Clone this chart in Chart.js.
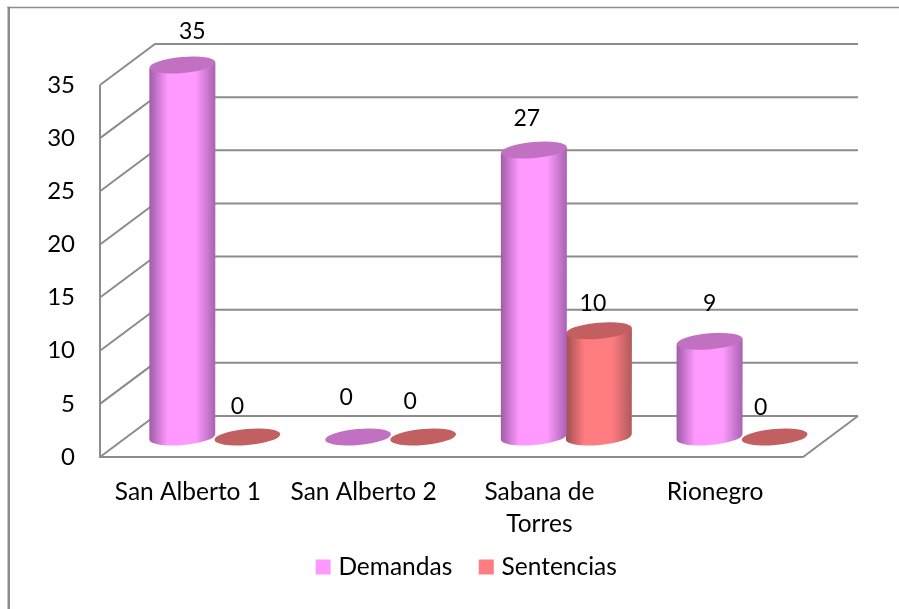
<!DOCTYPE html>
<html lang="es">
<head>
  <meta charset="UTF-8">
  <title>Demandas y Sentencias</title>
  <script src="https://cdn.jsdelivr.net/npm/chart.js"></script>
  <style>
    html, body { margin: 0; background: #fff; overflow: hidden; }
    canvas { display: block; }
  </style>
</head>
<body>
  <canvas id="chart" width="899" height="609"></canvas>
  <script>
    const categories = ['San Alberto 1', 'San Alberto 2', ['Sabana de', 'Torres'], 'Rionegro'];
    const demandas = [35, 0, 27, 9];
    const sentencias = [0, 0, 10, 0];
    const yTicks = [0, 5, 10, 15, 20, 25, 30, 35];

    // hand-placed value labels in the original, offset from each bar top
    const demandasLabelOffsets = [[10, -33], [-12, -39], [-7, -31], [0, -38]];
    const sentenciasLabelOffsets = [[-10, -30], [-13, -35], [-6, -27], [-14, -29]];

    const FONT = 'Lato, Carlito, sans-serif';
    const GRAY = '#8c8c8c';
    const DEPTH_X = 55, DEPTH_Y = -41;      // back wall offset
    const BAR_X = 27, BAR_Y = -20;          // bars stand in the middle of the floor
    const TILT = -5 * Math.PI / 180;

    const palette = [
      { edgeL: '#a05ca8', mid: '#ff99ff', edgeR: '#a862b0', top: '#c271c2' },
      { edgeL: '#a04f50', mid: '#ff7c80', edgeR: '#b05a5c', top: '#c15f61' }
    ];

    function drawCylinder(ctx, bar, colors) {
      const cx = bar.x + BAR_X;
      const topY = bar.y + BAR_Y;
      const baseY = bar.base + BAR_Y;
      const rx = bar.width / 2 + 0.5;
      const ry = 8;
      const dy = Math.sin(TILT) * rx;

      if (baseY - topY > 1) {
        const g = ctx.createLinearGradient(cx - rx, 0, cx + rx, 0);
        g.addColorStop(0, colors.edgeL);
        g.addColorStop(0.28, colors.mid);
        g.addColorStop(0.7, colors.mid);
        g.addColorStop(1, colors.edgeR);
        ctx.fillStyle = g;
        ctx.beginPath();
        ctx.moveTo(cx - rx, topY - dy);
        ctx.lineTo(cx - rx, baseY - dy);
        ctx.ellipse(cx, baseY, rx, ry, TILT, Math.PI, 0, true);
        ctx.lineTo(cx + rx, topY + dy);
        ctx.closePath();
        ctx.fill();
      }
      ctx.fillStyle = colors.top;
      ctx.beginPath();
      ctx.ellipse(cx, topY, rx, ry, TILT, 0, Math.PI * 2);
      ctx.fill();
    }

    const cylinders3d = {
      id: 'cylinders3d',
      afterLayout(chart) {
        // pin the legend where the original has it
        const lg = chart.legend;
        const h = lg.bottom - lg.top;
        lg.left += 67; lg.right += 67;
        lg.top = 523.75; lg.bottom = 523.75 + h;
      },
      beforeDatasetsDraw(chart) {
        const { ctx, chartArea: a, scales: { y } } = chart;
        ctx.save();
        ctx.strokeStyle = GRAY;
        ctx.lineWidth = 2;
        ctx.beginPath();
        yTicks.forEach(v => {
          const py = y.getPixelForValue(v);
          ctx.moveTo(a.left, py);
          ctx.lineTo(a.left + DEPTH_X, py + DEPTH_Y);
          ctx.lineTo(a.right + DEPTH_X, py + DEPTH_Y);
        });
        ctx.moveTo(a.left, a.top);
        ctx.lineTo(a.left, a.bottom);
        ctx.lineTo(a.right, a.bottom);
        ctx.lineTo(a.right + DEPTH_X, a.bottom + DEPTH_Y);
        ctx.stroke();
        ctx.restore();
      },
      beforeDatasetDraw(chart, args) {
        const meta = chart.getDatasetMeta(args.index);
        meta.data.forEach(bar => drawCylinder(chart.ctx, bar, palette[args.index]));
        return false;
      },
      afterDatasetsDraw(chart) {
        const { ctx } = chart;
        const offsets = [demandasLabelOffsets, sentenciasLabelOffsets];
        ctx.save();
        ctx.fillStyle = '#000';
        ctx.font = '23px ' + FONT;
        ctx.textAlign = 'center';
        ctx.textBaseline = 'middle';
        chart.data.datasets.forEach((ds, i) => {
          chart.getDatasetMeta(i).data.forEach((bar, j) => {
            const [dx, dy] = offsets[i][j];
            ctx.fillText(String(ds.data[j]), bar.x + BAR_X + dx, bar.y + BAR_Y + dy);
          });
        });
        ctx.restore();
      },
      afterDraw(chart) {
        // outer chart frame, left side heavier than the top
        const { ctx } = chart;
        ctx.save();
        ctx.strokeStyle = GRAY;
        ctx.lineWidth = 1.5;
        ctx.beginPath();
        ctx.moveTo(7.5, 7.5);
        ctx.lineTo(899, 7.5);
        ctx.stroke();
        ctx.lineWidth = 2.5;
        ctx.beginPath();
        ctx.moveTo(8.75, 6.7);
        ctx.lineTo(8.75, 609);
        ctx.stroke();
        ctx.restore();
      }
    };

    new Chart(document.getElementById('chart'), {
      type: 'bar',
      data: {
        labels: categories,
        datasets: [
          { label: 'Demandas', data: demandas, backgroundColor: '#ff99ff' },
          { label: 'Sentencias', data: sentencias, backgroundColor: '#ff7c80' }
        ]
      },
      options: {
        responsive: false,
        animation: false,
        events: [],
        layout: { padding: { top: 85, right: 96, left: 0, bottom: 0 } },
        datasets: { bar: { categoryPercentage: 0.74, barPercentage: 1 } },
        scales: {
          x: {
            grid: { display: false },
            border: { display: false },
            afterFit(s) { s.height = 86.5; },
            ticks: { color: '#000', padding: 12, maxRotation: 0, autoSkip: false, font: { family: FONT, size: 24.5, lineHeight: 1.27 } }
          },
          y: {
            min: 0, max: 35,
            afterBuildTicks(s) { s.ticks = yTicks.map(v => ({ value: v })); },
            afterFit(s) { s.width = 100; },
            grid: { display: false },
            border: { display: false },
            ticks: { color: '#000', padding: 17, font: { family: FONT, size: 24 } }
          }
        },
        plugins: {
          legend: {
            position: 'bottom',
            labels: { color: '#000', usePointStyle: true, pointStyle: 'rect', boxWidth: 6, boxHeight: 15, padding: 31, font: { family: FONT, size: 24.5 } }
          },
          tooltip: { enabled: false }
        }
      },
      plugins: [cylinders3d]
    });
  </script>
</body>
</html>
